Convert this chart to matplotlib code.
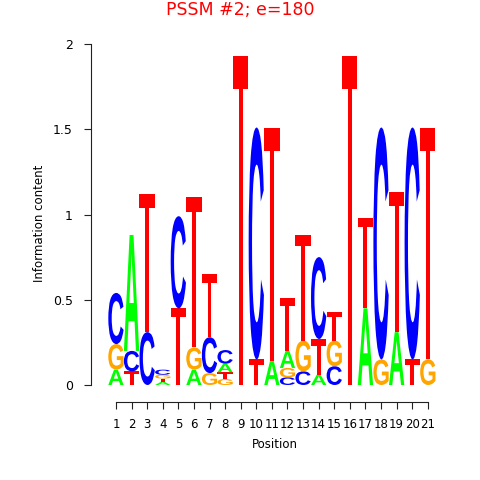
import matplotlib
matplotlib.use("Agg")
import matplotlib.pyplot as plt
from matplotlib.textpath import TextPath
from matplotlib.patches import PathPatch, Polygon
from matplotlib.font_manager import FontProperties
from matplotlib.transforms import Affine2D

# information content per position (bits), one list per base
positions = list(range(1, 22))
A = [0.09, 0.68, 0, 0.018, 0, 0.09, 0, 0.05, 0, 0, 0.14, 0.10, 0, 0.06, 0, 0, 0.45, 0, 0.31, 0, 0]
C = [0.30, 0.12, 0.31, 0.03, 0.54, 0, 0.21, 0.08, 0, 1.36, 0, 0.045, 0.08, 0.48, 0.11, 0, 0, 1.36, 0, 1.36, 0]
G = [0.15, 0, 0, 0.022, 0, 0.13, 0.07, 0.035, 0, 0, 0, 0.055, 0.18, 0, 0.15, 0, 0, 0.15, 0, 0, 0.15]
T = [0, 0.08, 0.81, 0.02, 0.45, 0.88, 0.37, 0.04, 1.93, 0.15, 1.37, 0.31, 0.62, 0.21, 0.17, 1.93, 0.53, 0, 0.82, 0.15, 1.36]

colors = {'A': '#00FF00', 'C': '#0000FF', 'G': '#FFA500', 'T': '#FF0000'}
yticks = [0, 0.5, 1, 1.5, 2]
yticklabels = ['0', '0.5', '1', '1.5', '2']

fp = FontProperties(family='Liberation Sans', weight='bold')
glyphs = {b: TextPath((0, 0), b, size=1, prop=fp) for b in 'ACG'}


def draw_letter(ax, base, x, y0, h, w=0.98):
    if base == 'T':
        # bar gets relatively thicker on short letters
        bar = h * (0.10 + 0.15 * max(0.0, 1 - h / 0.5))
        sw = 0.13 * w
        xs = [x - w / 2, x + w / 2, x + w / 2, x + sw, x + sw, x - sw, x - sw, x - w / 2]
        ys = [y0 + h, y0 + h, y0 + h - bar, y0 + h - bar, y0, y0, y0 + h - bar, y0 + h - bar]
        ax.add_patch(Polygon(list(zip(xs, ys)), closed=True, facecolor=colors[base],
                             edgecolor='none', lw=0))
        return
    path = glyphs[base]
    ext = path.get_extents()
    tr = (Affine2D().translate(-ext.x0, -ext.y0)
          .scale(w / ext.width, h / ext.height)
          .translate(x - w / 2, y0))
    ax.add_patch(PathPatch(tr.transform_path(path), facecolor=colors[base],
                           edgecolor='none', lw=0))


fig = plt.figure(figsize=(4.8, 4.8), dpi=100)
ax = fig.add_axes([91 / 480, 78 / 480, 368 / 480, 358 / 480])

for i, pos in enumerate(positions):
    col = sorted([(A[i], 'A'), (C[i], 'C'), (G[i], 'G'), (T[i], 'T')])
    y = 0
    for h, b in col:
        if h <= 0:
            continue
        draw_letter(ax, b, pos, y, h)
        y += h

ax.set_xlim(-0.6, 23.0)
ax.set_ylim(-0.0997, 2.0)
for s in ['top', 'right']:
    ax.spines[s].set_visible(False)
ax.spines['left'].set_bounds(0, 2)
ax.spines['bottom'].set_bounds(1, 21)
for s in ['left', 'bottom']:
    ax.spines[s].set_color('#222222')
    ax.spines[s].set_linewidth(0.8)

ax.set_xticks(positions)
ax.set_xticklabels([str(p) for p in positions], fontsize=8.5)
ax.set_yticks(yticks)
ax.set_yticklabels(yticklabels, fontsize=9)
ax.tick_params(axis='both', direction='out', length=5.2, width=0.8, color='#222222')
ax.tick_params(axis='y', pad=8)
ax.tick_params(axis='x', pad=6)

ax.set_xlabel('Position', fontsize=8.5, labelpad=5)
ax.set_ylabel('Information content', fontsize=8.5, labelpad=5)
fig.suptitle('PSSM #2; e=180', color='red', fontsize=12.5, y=0.997)

fig.savefig('out.png', dpi=100)
